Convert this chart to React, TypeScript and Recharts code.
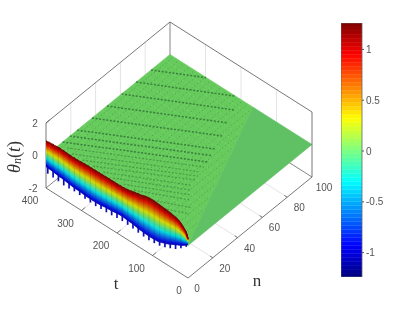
import React from 'react';
import { ComposedChart, XAxis, YAxis, Area, Line, Scatter } from 'recharts';

// time samples along the n = 0 edge of the surface
const edgeT = [
  0, 5, 10, 15, 20, 25, 30, 35, 40, 45, 50, 55, 60, 65, 70, 75, 80, 85, 90, 95,
  100, 105, 110, 115, 120, 125, 130, 135, 140, 145, 150, 155, 160, 165, 170, 175, 180, 185, 190, 195,
  200, 205, 210, 215, 220, 225, 230, 235, 240, 245, 250, 255, 260, 265, 270, 275, 280, 285, 290, 295,
  300, 305, 310, 315, 320, 325, 330, 335, 340, 345, 350, 355, 360, 365, 370, 375, 380, 385, 390, 395, 400,
];
const crest = [
  0.45, 0.78, 0.9, 1.02, 1.12, 1.2, 1.25, 1.28, 1.3, 1.32, 1.34, 1.36, 1.37, 1.38, 1.39, 1.4, 1.41, 1.42, 1.43, 1.44,
  1.44, 1.44, 1.43, 1.41, 1.38, 1.34, 1.31, 1.27, 1.27, 1.23, 1.22, 1.17, 1.16, 1.11, 1.11, 1.07, 1.08, 1.05, 1.07, 1.04,
  1.06, 1.04, 1.06, 1.04, 1.06, 1.04, 1.05, 1.03, 1.05, 1.02, 1.04, 1.02, 1.04, 1.01, 1.03, 1.01, 1.03, 1.01, 1.02, 0.99,
  1.0, 0.97, 0.98, 0.96, 0.98, 0.95, 0.98, 0.96, 0.99, 0.98, 1.01, 0.98, 1.02, 0.99, 0.99, 0.96, 0.98, 0.94, 0.96, 0.92, 0.92,
];
// where the solid part of the band stops
const bandFloor = [
  0.1, -0.05, -0.12, -0.2, -0.27, -0.33, -0.39, -0.45, -0.5, -0.56, -0.62, -0.68, -0.73, -0.78, -0.82, -0.86, -0.9, -0.93, -0.94, -0.95,
  -0.96, -0.96, -0.96, -0.95, -0.95, -0.94, -0.93, -0.92, -0.9, -0.88, -0.86, -0.84, -0.83, -0.82, -0.81, -0.8, -0.79, -0.78, -0.78, -0.79,
  -0.8, -0.82, -0.83, -0.85, -0.86, -0.87, -0.88, -0.89, -0.91, -0.93, -0.94, -0.94, -0.95, -0.95, -0.95, -0.95, -0.95, -0.95, -0.94, -0.93,
  -0.92, -0.91, -0.9, -0.9, -0.89, -0.89, -0.87, -0.85, -0.84, -0.82, -0.81, -0.79, -0.78, -0.77, -0.76, -0.75, -0.73, -0.72, -0.71, -0.7, -0.69,
];
// blue spikes hanging under the band
const spikeT = [
  5, 20, 35, 50, 65, 80, 95, 110, 125, 140, 155, 170, 185, 200, 215, 230, 245, 260, 275, 290, 305, 320, 335, 350, 365, 380, 395,
];
const spikeRoot = [
  -0.05, -0.27, -0.45, -0.62, -0.78, -0.9, -0.95, -0.96, -0.94, -0.9, -0.84, -0.81, -0.78, -0.8, -0.85, -0.88, -0.93, -0.95, -0.95, -0.94, -0.91, -0.89, -0.85, -0.81, -0.77, -0.73, -0.7,
];
const spikeTip = [
  -0.15, -0.45, -0.7, -0.86, -1.0, -1.12, -1.17, -1.2, -1.18, -1.15, -1.1, -1.08, -1.06, -1.08, -1.12, -1.14, -1.15, -1.18, -1.16, -1.14, -1.12, -1.1, -1.13, -1.15, -1.1, -1.08, -1.05,
];
const spikeCrest = [
  0.78, 1.12, 1.28, 1.34, 1.38, 1.41, 1.44, 1.43, 1.34, 1.27, 1.17, 1.11, 1.05, 1.06, 1.04, 1.05, 1.02, 1.04, 1.01, 1.02, 0.97, 0.98, 0.96, 1.01, 0.99, 0.98, 0.92,
];

// wave crests showing up as dark dotted rows on the surface: [t, n] from / to
const rippleFrom = [
  [400, 84.7], [400, 72.7], [400, 60.9], [400, 49.1], [400, 37.1], [400, 25.1], [400, 19.2], [400, 13.4],
  [381, 11.7], [362, 10], [333, 10.3], [305, 10.7], [277, 10.9], [250, 11.1], [221, 11.4], [193, 11.8], [150, 12], [110, 12],
];
const rippleTo = [
  [298, 99.8], [216, 99.8], [189, 92], [175, 82.3], [159, 73], [145, 63.3], [138, 58.4], [131, 53.5],
  [127, 49.3], [124, 45.2], [120, 42], [116, 39], [110, 35], [105, 31.6], [95, 29], [85, 26], [70, 22], [60, 18],
];
// fine mesh lines behind the ripples
const meshT = [
  390, 375, 360, 345, 330, 315, 300, 285, 270, 255, 240, 225, 210, 195, 180, 165, 150, 135, 120, 105, 90, 75, 60, 45, 30,
];
const meshN = [5, 10, 15, 20, 25, 30, 35, 40, 45, 50, 55, 60, 65, 70, 75, 80, 85, 90, 95];
// where the wave front has got to
const frontT = [0, 166];
const frontN = [0, 100];

const tTicks = [0, 100, 200, 300, 400];
const nTicks = [0, 20, 40, 60, 80, 100];
const zTicks = [-2, 0, 2];
const cbarTicks = [-1, -0.5, 0, 0.5, 1];
const cbarMin = -1.24;
const cbarMax = 1.26;
const LEVELS = 64;

const project = (t: number, n: number, z: number) => ({
  x: 188 + 1.24 * n - 0.355 * t,
  y: 278 - 1.01 * n - 0.225 * t - (z + 2) * 16.25,
});

const seg = (a: number[], b: number[]) => [
  project(a[0], a[1], a[2]),
  project(b[0], b[1], b[2]),
];

const jet = (f: number, dim = 1) => {
  const c = (v: number) => Math.round(255 * dim * Math.max(0, Math.min(1, v)));
  const r = c(Math.min(4 * f - 1.5, -4 * f + 4.5));
  const g = c(Math.min(4 * f - 0.5, -4 * f + 3.5));
  const b = c(Math.min(4 * f + 0.5, -4 * f + 2.5));
  return `rgb(${r},${g},${b})`;
};

// turn a convex patch of the z = 0 plane into rows an Area can fill
const patch = (corners: number[][]) => {
  const pts = corners.map(c => project(c[0], c[1], 0));
  const xs = Array.from(new Set(pts.map(p => p.x))).sort((a, b) => a - b);
  return xs.map(x => {
    const ys: number[] = [];
    pts.forEach((p, i) => {
      const q = pts[(i + 1) % pts.length];
      if (x >= Math.min(p.x, q.x) && x <= Math.max(p.x, q.x)) {
        if (p.x === q.x) ys.push(p.y, q.y);
        else ys.push(p.y + ((q.y - p.y) * (x - p.x)) / (q.x - p.x));
      }
    });
    return { x, r: [Math.min(...ys), Math.max(...ys)] };
  });
};

const rippledPatch = patch([[400, 0], [400, 100], [frontT[1], frontN[1]], [frontT[0], frontN[0]]]);
const flatPatch = patch([[frontT[0], frontN[0]], [0, 100], [frontT[1], frontN[1]]]);

const bandRows = Array.from({ length: LEVELS }, (_, k) =>
  edgeT.map((t, i) => {
    const lo = bandFloor[i];
    const hi = crest[i];
    const a = project(t, 0, lo + ((hi - lo) * k) / LEVELS);
    const b = project(t, 0, lo + ((hi - lo) * (k + 1)) / LEVELS);
    return { x: a.x, r: [b.y, a.y] };
  })
);

const gridLines = [
  ...nTicks.slice(1, 5).map(n => seg([400, n, -2], [400, n, 2])),
  ...tTicks.slice(1, 4).map(t => seg([t, 100, -2], [t, 100, 2])),
  ...nTicks.slice(1, 5).map(n => seg([0, n, -2], [400, n, -2])),
  ...tTicks.slice(1, 4).map(t => seg([t, 0, -2], [t, 100, -2])),
];
const hiddenBox = [
  seg([400, 0, -2], [400, 100, -2]),
  seg([400, 100, -2], [0, 100, -2]),
  seg([400, 100, -2], [400, 100, 2]),
];
const box = [
  seg([400, 0, -2], [400, 0, 2]),
  seg([400, 0, 2], [400, 100, 2]),
  seg([400, 100, 2], [0, 100, 2]),
  seg([0, 100, 2], [0, 100, -2]),
  seg([400, 0, -2], [0, 0, -2]),
  seg([0, 0, -2], [0, 100, -2]),
];
const tickMarks = [
  ...tTicks.slice(1, 4).map(t => seg([t, 0, -2], [t, 3, -2])),
  ...nTicks.slice(1, 5).map(n => seg([0, n, -2], [8, n, -2])),
  ...zTicks.slice(1).map(z => seg([400, 0, z], [400, 3, z])),
];

const tLabels = tTicks.map(t => ({
  ...project(t, 0, -2), label: String(t), dx: t === 0 ? -9 : -16, dy: 12.5,
}));
const nLabels = nTicks.map(n => ({
  ...project(0, n, -2), label: String(n), dx: n === 0 ? 9 : 12, dy: 10.5,
}));
const zLabels = zTicks.map(z => ({
  ...project(400, 0, z), label: String(z), dx: z < 0 ? -13 : -11, dy: 0,
}));

const AxisText = (p: any) => (
  <text
    x={p.cx + p.payload.dx}
    y={p.cy + p.payload.dy}
    textAnchor="middle"
    dominantBaseline="central"
    fontFamily="Liberation Sans"
    fontSize={10}
    fill="#555"
  >
    {p.payload.label}
  </text>
);

const AxisName = (p: any) => (
  <text
    x={p.cx}
    y={p.cy}
    textAnchor="middle"
    dominantBaseline="central"
    fontFamily="Liberation Serif"
    fontSize={17}
    fill="#333"
  >
    {p.payload.label}
  </text>
);

const ThetaLabel = (p: any) => (
  <text
    transform={`rotate(-90 ${p.cx} ${p.cy})`}
    x={p.cx}
    y={p.cy}
    textAnchor="middle"
    dominantBaseline="central"
    fontFamily="Liberation Serif"
    fontSize={18}
    fill="#333"
  >
    <tspan fontStyle="italic">θ</tspan>
    <tspan fontStyle="italic" fontSize={12} dy={3}>n</tspan>
    <tspan dy={-3}>(</tspan>
    <tspan fontStyle="italic">t</tspan>
    <tspan>)</tspan>
  </text>
);

const cbarLevels = Array.from({ length: LEVELS }, (_, k) => ({
  fill: jet((k + 0.5) / LEVELS),
  data: [0, 1].map(x => ({
    x,
    r: [
      cbarMin + ((cbarMax - cbarMin) * k) / LEVELS,
      cbarMin + ((cbarMax - cbarMin) * (k + 1)) / LEVELS,
    ],
  })),
}));
const cbarFrame = [
  { x: 0, y: cbarMin }, { x: 1, y: cbarMin }, { x: 1, y: cbarMax }, { x: 0, y: cbarMax }, { x: 0, y: cbarMin },
];

const bandColor = (k: number) => jet(0.07 + (k / LEVELS) * 0.93, 0.86);

const App = () => (
  <div style={{ position: 'absolute', left: 0, top: 0, width: 415, height: 312, background: '#fff', filter: 'blur(0.45px)' }}>
    <ComposedChart width={415} height={312} margin={{ top: 0, right: 0, bottom: 0, left: 0 }}>
      <XAxis dataKey="x" type="number" domain={[0, 415]} hide />
      <YAxis dataKey="y" type="number" domain={[0, 312]} reversed hide />

      {gridLines.map((d, i) => (
        <Line key={`g${i}`} data={d} dataKey="y" stroke="#e4e4e4" strokeWidth={1} dot={false} isAnimationActive={false} zIndex={10} />
      ))}
      {hiddenBox.map((d, i) => (
        <Line key={`h${i}`} data={d} dataKey="y" stroke="#666" strokeWidth={0.8} dot={false} isAnimationActive={false} zIndex={11} />
      ))}

      <Area data={rippledPatch} dataKey="r" stroke="#66cb5c" strokeWidth={0.6} fill="#66cb5c" fillOpacity={1} dot={false} isAnimationActive={false} />
      <Area data={flatPatch} dataKey="r" stroke="#60c064" strokeWidth={0.6} fill="#60c064" fillOpacity={1} dot={false} isAnimationActive={false} />

      {meshN.map(n => (
        <Line
          key={`ln${n}`}
          data={seg([398, n, 0], [(frontT[1] * n) / frontN[1] + 3, n, 0])}
          dataKey="y"
          stroke="#8be07a"
          strokeOpacity={0.55}
          strokeWidth={1}
          strokeDasharray="1.5 2.5"
          dot={false}
          isAnimationActive={false}
        />
      ))}
      {meshT.map(t => (
        <Line
          key={`lt${t}`}
          data={seg([t, 1, 0], [t, Math.min(99, (t * frontN[1]) / frontT[1] - 2), 0])}
          dataKey="y"
          stroke="#2f6b33"
          strokeOpacity={0.4}
          strokeWidth={1}
          strokeDasharray="1.2 2.4"
          dot={false}
          isAnimationActive={false}
        />
      ))}
      {rippleFrom.map((a, i) => (
        <Line
          key={`r${i}`}
          data={seg([a[0], a[1], 0], [rippleTo[i][0], rippleTo[i][1], 0])}
          dataKey="y"
          stroke="#2f6b33"
          strokeOpacity={i < 8 ? 0.8 : 0.5}
          strokeWidth={i < 8 ? 1.5 : 1.2}
          strokeDasharray="2 1.6"
          dot={false}
          isAnimationActive={false}
        />
      ))}

      {bandRows.map((d, k) => (
        <Area
          key={`b${k}`}
          data={d}
          dataKey="r"
          stroke={bandColor(k)}
          strokeWidth={0.4}
          fill={bandColor(k)}
          fillOpacity={1}
          dot={false}
          isAnimationActive={false}
          zIndex={450}
        />
      ))}
      {spikeT.map((t, i) => (
        <Line
          key={`c${i}`}
          data={seg([t, 0, spikeRoot[i]], [t, 0, spikeCrest[i]])}
          dataKey="y"
          stroke="#000"
          strokeOpacity={0.09}
          strokeWidth={1.2}
          dot={false}
          isAnimationActive={false}
          zIndex={455}
        />
      ))}
      {spikeT.map((t, i) => (
        <Line
          key={`s${i}`}
          data={seg([t, 0, spikeRoot[i] + 0.05], [t, 0, spikeTip[i]])}
          dataKey="y"
          stroke="#0c10b8"
          strokeWidth={1.7}
          dot={false}
          isAnimationActive={false}
          zIndex={460}
        />
      ))}

      {box.map((d, i) => (
        <Line key={`x${i}`} data={d} dataKey="y" stroke="#555" strokeWidth={0.8} dot={false} isAnimationActive={false} />
      ))}
      {tickMarks.map((d, i) => (
        <Line key={`m${i}`} data={d} dataKey="y" stroke="#555" strokeWidth={0.8} dot={false} isAnimationActive={false} />
      ))}

      <Scatter data={[...tLabels, ...nLabels, ...zLabels]} dataKey="y" shape={AxisText} isAnimationActive={false} />
      <Scatter data={[{ x: 116, y: 283, label: 't' }, { x: 257, y: 280, label: 'n' }]} dataKey="y" shape={AxisName} isAnimationActive={false} />
      <Scatter data={[{ x: 14, y: 157 }]} dataKey="y" shape={ThetaLabel} isAnimationActive={false} />
    </ComposedChart>

    <div style={{ position: 'absolute', left: 341, top: 23 }}>
      <ComposedChart width={70} height={254} margin={{ top: 0, right: 0, bottom: 0, left: 0 }}>
        <XAxis dataKey="x" type="number" domain={[0, 1]} hide />
        <YAxis
          type="number"
          orientation="right"
          domain={[cbarMin, cbarMax]}
          ticks={cbarTicks}
          width={49}
          axisLine={false}
          tickSize={2}
          tickMargin={2}
          tickLine={{ stroke: '#555' }}
          tick={{ fontFamily: 'Liberation Sans', fontSize: 10, fill: '#555', textAnchor: 'start' }}
        />
        {cbarLevels.map((c, k) => (
          <Area key={k} data={c.data} dataKey="r" stroke={c.fill} strokeWidth={0.3} fill={c.fill} fillOpacity={1} dot={false} isAnimationActive={false} />
        ))}
        <Line data={cbarFrame} dataKey="y" stroke="#666" strokeWidth={0.8} dot={false} isAnimationActive={false} />
      </ComposedChart>
    </div>
  </div>
);

export default App;
